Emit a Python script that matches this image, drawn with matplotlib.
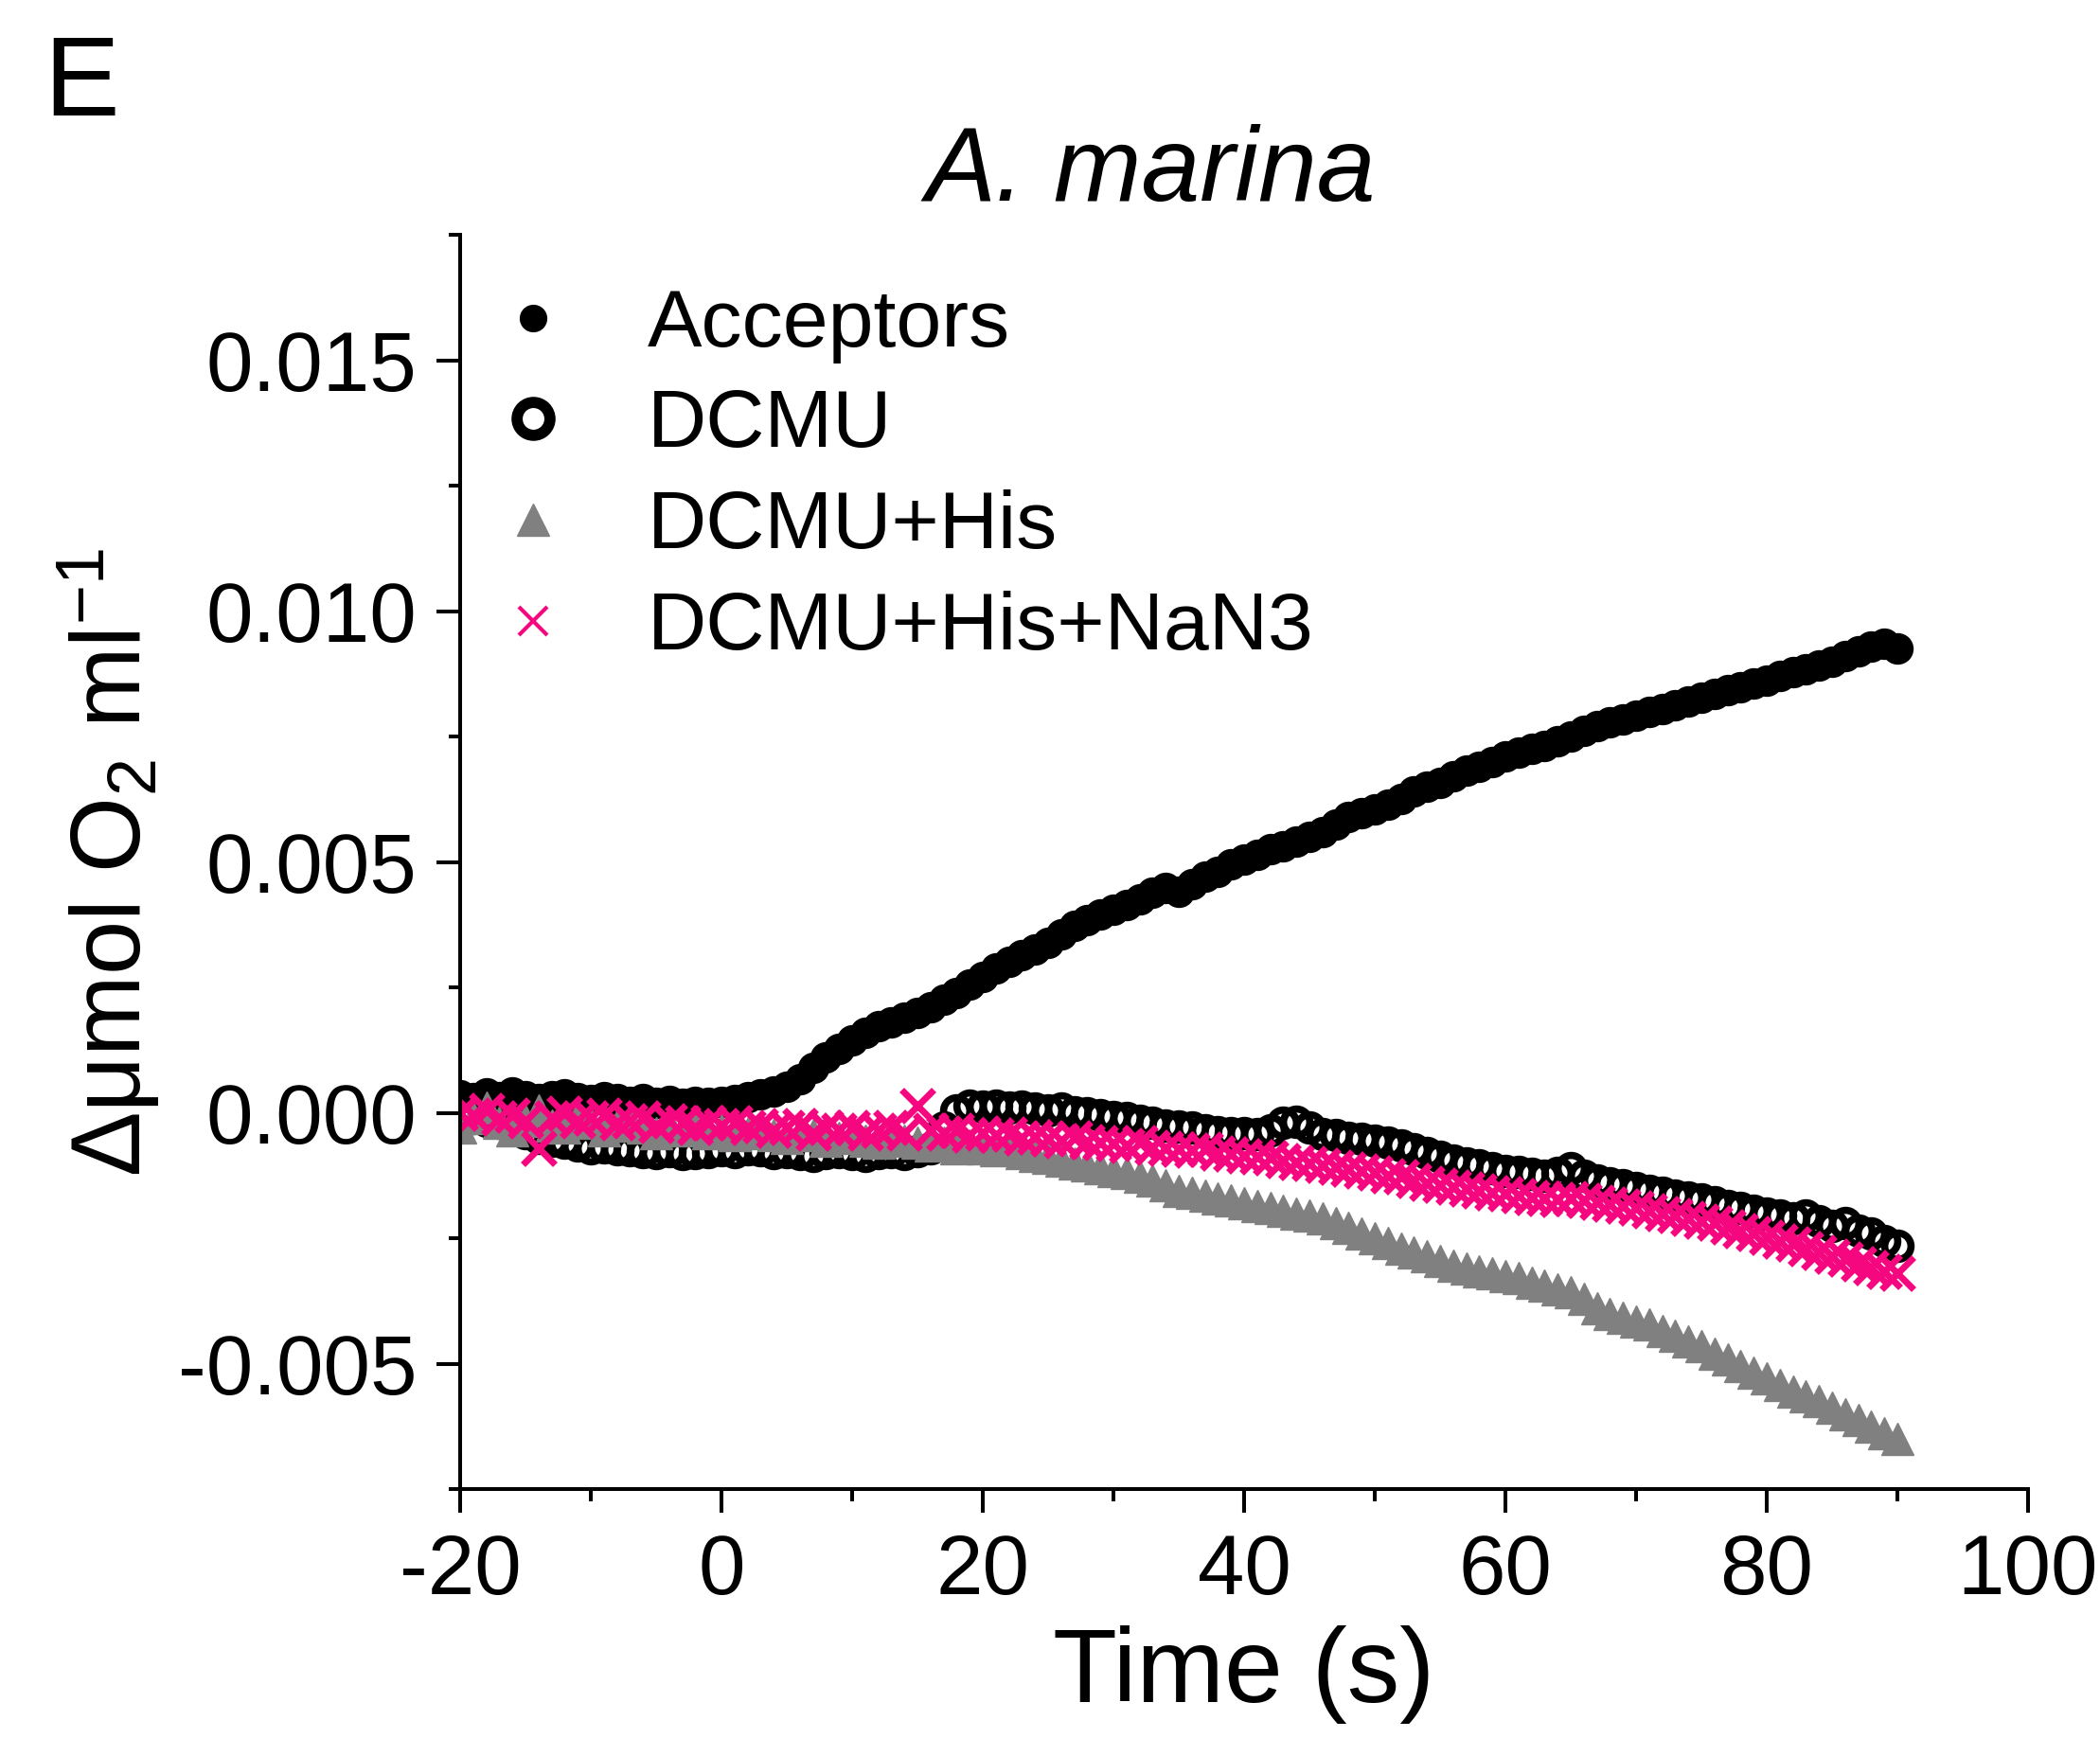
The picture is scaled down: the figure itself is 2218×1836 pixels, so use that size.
import numpy as np
import matplotlib
matplotlib.use("Agg")
import matplotlib.pyplot as plt
from matplotlib.ticker import MultipleLocator, FuncFormatter

plt.rcParams['font.family'] = ['Liberation Sans', 'DejaVu Sans']
plt.rcParams['mathtext.fontset'] = 'custom'
plt.rcParams['mathtext.rm'] = 'Liberation Sans'
plt.rcParams['mathtext.it'] = 'Liberation Sans:italic'
plt.rcParams['axes.unicode_minus'] = False

# time points (s), one per second
time = list(range(-20, 91))

# delta O2, in units of 1e-3 umol/ml
acceptors = [
    0.35, 0.30, 0.38, 0.32, 0.40, 0.34, 0.28, 0.33, 0.37, 0.30,
    0.25, 0.31, 0.27, 0.22, 0.28, 0.20, 0.24, 0.18, 0.22, 0.20,
    0.22, 0.26, 0.32, 0.36, 0.42, 0.52, 0.68, 0.90, 1.10, 1.28,
    1.45, 1.60, 1.72, 1.80, 1.90, 2.00, 2.10, 2.25, 2.38, 2.55,
    2.70, 2.88, 3.02, 3.15, 3.25, 3.38, 3.55, 3.72, 3.85, 3.95,
    4.05, 4.15, 4.25, 4.38, 4.48, 4.40, 4.55, 4.70, 4.80, 4.95,
    5.05, 5.15, 5.25, 5.32, 5.40, 5.50, 5.60, 5.75, 5.90, 5.98,
    6.05, 6.15, 6.25, 6.40, 6.50, 6.58, 6.70, 6.82, 6.90, 7.00,
    7.10, 7.18, 7.25, 7.32, 7.40, 7.50, 7.62, 7.70, 7.78, 7.85,
    7.92, 8.00, 8.05, 8.12, 8.20, 8.28, 8.35, 8.42, 8.48, 8.55,
    8.62, 8.70, 8.78, 8.85, 8.92, 9.00, 9.10, 9.20, 9.30, 9.35,
    9.25,
]
dcmu = [
    -0.05, -0.10, -0.15, -0.20, -0.30, -0.40, -0.50, -0.55, -0.60, -0.65,
    -0.70, -0.68, -0.72, -0.75, -0.78, -0.80, -0.76, -0.82, -0.80, -0.78,
    -0.75, -0.78, -0.72, -0.75, -0.80, -0.78, -0.82, -0.85, -0.80, -0.78,
    -0.82, -0.85, -0.80, -0.78, -0.82, -0.76, -0.70, -0.30, 0.05, 0.15,
    0.12, 0.15, 0.10, 0.12, 0.08, 0.05, 0.08, 0.02, 0.00, -0.05,
    -0.08, -0.10, -0.15, -0.20, -0.25, -0.28, -0.30, -0.35, -0.38, -0.40,
    -0.40, -0.42, -0.35, -0.20, -0.18, -0.30, -0.42, -0.45, -0.50, -0.52,
    -0.55, -0.60, -0.65, -0.72, -0.80, -0.88, -0.95, -1.00, -1.05, -1.10,
    -1.15, -1.18, -1.22, -1.25, -1.20, -1.10, -1.25, -1.35, -1.40, -1.45,
    -1.50, -1.55, -1.60, -1.65, -1.68, -1.72, -1.78, -1.85, -1.90, -1.95,
    -2.00, -2.05, -2.10, -2.05, -2.15, -2.25, -2.20, -2.35, -2.40, -2.55,
    -2.65,
]
dcmu_his = [
    -0.30, -0.10, 0.10, -0.20, -0.35, -0.15, 0.05, -0.25, -0.30, -0.10,
    -0.20, -0.35, -0.25, -0.15, -0.30, -0.40, -0.25, -0.35, -0.30, -0.40,
    -0.35, -0.45, -0.40, -0.30, -0.45, -0.50, -0.40, -0.45, -0.55, -0.50,
    -0.45, -0.55, -0.60, -0.50, -0.55, -0.60, -0.65, -0.60, -0.70, -0.65,
    -0.70, -0.75, -0.72, -0.80, -0.85, -0.90, -0.95, -1.00, -1.05, -1.10,
    -1.15, -1.20, -1.28, -1.35, -1.45, -1.55, -1.60, -1.65, -1.70, -1.75,
    -1.80, -1.85, -1.90, -1.95, -2.00, -2.05, -2.10, -2.20, -2.30, -2.40,
    -2.50, -2.60, -2.70, -2.78, -2.85, -2.95, -3.05, -3.10, -3.15, -3.20,
    -3.25, -3.30, -3.38, -3.45, -3.52, -3.58, -3.70, -3.90, -4.00, -4.08,
    -4.15, -4.22, -4.35, -4.45, -4.55, -4.65, -4.80, -4.92, -5.05, -5.18,
    -5.30, -5.42, -5.55, -5.65, -5.75, -5.88, -6.00, -6.12, -6.25, -6.38,
    -6.50,
]
dcmu_his_nan3 = [
    0.00, -0.05, 0.05, -0.10, -0.05, -0.15, -0.70, -0.10, 0.00, -0.15,
    -0.10, -0.05, -0.20, -0.15, -0.10, -0.25, -0.15, -0.20, -0.30, -0.20,
    -0.25, -0.20, -0.30, -0.25, -0.35, -0.30, -0.25, -0.40, -0.30, -0.35,
    -0.30, -0.40, -0.35, -0.30, -0.40, 0.15, -0.35, -0.40, -0.35, -0.45,
    -0.40, -0.45, -0.42, -0.50, -0.48, -0.52, -0.55, -0.50, -0.58, -0.60,
    -0.62, -0.65, -0.60, -0.68, -0.70, -0.72, -0.75, -0.72, -0.80, -0.82,
    -0.85, -0.88, -0.90, -0.95, -0.98, -1.00, -1.05, -1.08, -1.12, -1.15,
    -1.20, -1.25, -1.28, -1.35, -1.40, -1.45, -1.48, -1.52, -1.55, -1.60,
    -1.62, -1.65, -1.68, -1.70, -1.72, -1.70, -1.75, -1.78, -1.82, -1.85,
    -1.90, -1.95, -2.00, -2.05, -2.10, -2.15, -2.20, -2.28, -2.35, -2.40,
    -2.48, -2.55, -2.62, -2.70, -2.78, -2.85, -2.92, -3.00, -3.08, -3.15,
    -3.20,
]

labels = ['Acceptors', 'DCMU', 'DCMU+His', 'DCMU+His+NaN3']
pink = '#F5087F'
grey = '#808080'

t = np.array(time)
fig = plt.figure(figsize=(22.18, 18.36), dpi=100)
ax = fig.add_axes([0.2191, 0.1432, 0.7466, 0.7217])

ax.plot(t, np.array(acceptors) * 1e-3, ls='none', marker='o', ms=23,
        mfc='black', mec='black', label=labels[0])
ax.plot(t, np.array(dcmu) * 1e-3, ls='none', marker='o', ms=20,
        mfc='none', mec='black', mew=5.5, label=labels[1])
ax.plot(t, np.array(dcmu_his) * 1e-3, ls='none', marker='^', ms=25,
        mfc=grey, mec=grey, label=labels[2])
ax.plot(t, np.array(dcmu_his_nan3) * 1e-3, ls='none', marker='x', ms=24,
        mec=pink, mew=5, label=labels[3])

ax.set_xlim(-20, 100)
ax.set_ylim(-0.0075, 0.0175)
ax.xaxis.set_major_locator(MultipleLocator(20))
ax.xaxis.set_minor_locator(MultipleLocator(10))
ax.yaxis.set_major_locator(MultipleLocator(0.005))
ax.yaxis.set_minor_locator(MultipleLocator(0.0025))
ax.yaxis.set_major_formatter(FuncFormatter(lambda v, p: f'{v:.3f}'))

for side in ['top', 'right']:
    ax.spines[side].set_visible(False)
for side in ['left', 'bottom']:
    ax.spines[side].set_linewidth(2.9)
ax.tick_params(which='major', direction='out', length=18, width=2.9,
               labelsize=64, pad=15)
ax.tick_params(which='minor', direction='out', length=9, width=2.9)

ax.set_xlabel('Time (s)', fontsize=80, labelpad=10)
ax.set_ylabel(r'$\Delta$μmol O$_2$ ml$^{-1}$', fontsize=74, labelpad=12)

leg = ax.legend(loc='upper left', bbox_to_anchor=(0.0205, 0.958),
                frameon=False, fontsize=62, handlelength=1.0,
                handletextpad=0.9, labelspacing=0.31, borderpad=0,
                borderaxespad=0)
# legend symbols use their own sizes, as in the original
leg_sizes = [20, 25, 24, 21]
leg_widths = [1, 8.5, 1, 3]
for h, s, w in zip(leg.legend_handles, leg_sizes, leg_widths):
    h.set_markersize(s)
    h.set_markeredgewidth(w)

fig.text(1215 / 2218, 1 - 212 / 1836, 'A. marina', fontsize=80,
         style='italic', ha='center', va='baseline')
fig.text(46 / 2218, 1 - 122 / 1836, 'E', fontsize=86, ha='left',
         va='baseline')

fig.savefig('out.png', dpi=100)
